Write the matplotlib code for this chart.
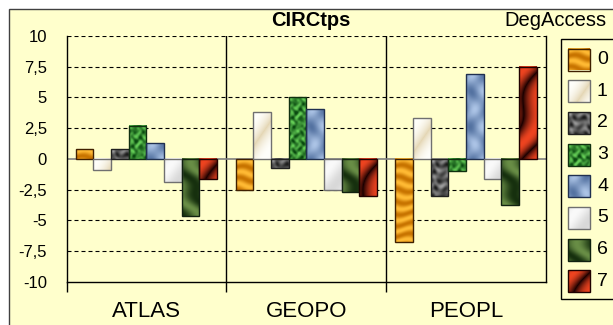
import numpy as np
import matplotlib.pyplot as plt
from matplotlib.patches import Rectangle

plt.rcParams['font.family'] = ['Liberation Sans', 'DejaVu Sans']

# values per DegAccess level, one entry per category
categories = ['ATLAS', 'GEOPO', 'PEOPL']
levels = ['0', '1', '2', '3', '4', '5', '6', '7']
deg0 = [0.8, -2.5, -6.8]
deg1 = [-0.9, 3.8, 3.3]
deg2 = [0.8, -0.75, -3.0]
deg3 = [2.7, 5.0, -1.0]
deg4 = [1.3, 4.05, 6.9]
deg5 = [-1.9, -2.5, -1.65]
deg6 = [-4.65, -2.7, -3.75]
deg7 = [-1.65, -3.05, 7.5]
series = [deg0, deg1, deg2, deg3, deg4, deg5, deg6, deg7]
yticks = [-10, -7.5, -5, -2.5, 0, 2.5, 5, 7.5, 10]

bg_col = '#FFFFCC'
# dark / light tone of each fill texture
tones = [('#C87400', '#FFBA34'),
         ('#E4D6B4', '#FFFFFB'),
         ('#1C1C1C', '#9C9C9C'),
         ('#0A4A10', '#64CC56'),
         ('#3E5E90', '#ACC4E6'),
         ('#D0D0D0', '#FAFAFA'),
         ('#16300E', '#72984C'),
         ('#1A0000', '#EE4420')]
edges = ['#402000', '#707070', '#202020', '#103010',
         '#203050', '#707070', '#102010', '#200000']


def hex_rgb(h):
    return np.array([int(h[i:i + 2], 16) for i in (1, 3, 5)]) / 255.0


def texture(k, nr, nc):
    v, u = np.mgrid[0:nr, 0:nc].astype(float)
    if k == 0:
        # soft wood grain
        t = 0.5 + 0.5 * np.sin(0.55 * v + 1.2 * np.sin(0.18 * u + 0.07 * v))
    elif k == 1:
        t = np.clip(0.5 + 0.5 * np.sin(0.16 * u + 0.11 * v + 1.0), 0, 1) ** 0.4
    elif k == 2:
        t = 0.5 + 0.17 * (np.sin(0.6 * u + 0.3 * v) + np.sin(0.45 * v - 0.35 * u + 1.5 * np.cos(0.4 * u))
                          + np.sin(0.8 * v + 0.9 * np.sin(0.5 * u)))
    elif k == 3:
        t = 0.5 + 0.2 * (np.sin(0.9 * u + 1.5 * np.cos(0.6 * v)) + np.sin(0.8 * v + 1.3 * np.sin(0.7 * u))
                         + np.sin(0.5 * (u + v)))
    elif k == 4:
        t = 0.6 + 0.4 * np.sin(0.25 * u + 0.6 * np.sin(0.15 * v)) * np.cos(0.18 * v)
    elif k == 5:
        t = 0.6 + 0.4 * np.sin(0.15 * u + 0.12 * v)
    elif k == 6:
        t = 0.45 + 0.45 * np.sin(0.18 * (u - 0.7 * v) + 0.8 * np.sin(0.2 * v))
    else:
        t = (0.5 + 0.5 * np.sin(0.2 * (u + 0.5 * v) + 1.5 * np.sin(0.08 * v))) ** 0.45
    t = np.clip(t, 0, 1)[..., None]
    lo, hi = hex_rgb(tones[k][0]), hex_rgb(tones[k][1])
    return lo * (1 - t) + hi * t


fig = plt.figure(figsize=(6.13, 3.25), dpi=100)
fig.patch.set_facecolor('white')

# full-figure layer in pixel units for chart area, titles and legend
bg = fig.add_axes([0, 0, 1, 1])
bg.axis('off')
bg.add_patch(Rectangle((9, 9), 620, 330, facecolor=bg_col, edgecolor='#404040', lw=1))
bg.text(311, 21, 'CIRCtps', ha='center', va='center', fontsize=14.5, weight='bold')
bg.text(504, 21, 'DegAccess', ha='left', va='center', fontsize=14.5)

bg.add_patch(Rectangle((561, 39), 80, 260, facecolor=bg_col, edgecolor='black', lw=1))
for k, lab in enumerate(levels):
    y0 = 48.5 + k * 31.7
    bg.imshow(texture(k, 22, 22), extent=(568, 590, y0 + 22, y0),
              aspect='auto', interpolation='bilinear', zorder=3)
    bg.add_patch(Rectangle((568, y0), 22, 22, fill=False, edgecolor=edges[k], lw=1, zorder=4))
    bg.text(597, y0 + 11, lab, ha='left', va='center', fontsize=14)
bg.set_xlim(0, 613)
bg.set_ylim(325, 0)

ax = fig.add_axes([66.5 / 613, 43.3 / 325, 479.5 / 613, 245.7 / 325])
ax.patch.set_alpha(0)

x = np.arange(len(categories))
n = len(series)
group = 0.885
bw = group / n
for k, vals in enumerate(series):
    pos = x - group / 2 + k * bw
    bars = ax.bar(pos, vals, bw, align='edge', color=tones[k][1], edgecolor='none', zorder=3)
    for b, val in zip(bars, vals):
        nr = max(2, int(round(abs(val) * 12.3)))
        ax.imshow(texture(k, nr, 18),
                  extent=(b.get_x(), b.get_x() + bw, min(0, val), max(0, val)),
                  aspect='auto', interpolation='bilinear', zorder=3.5, clip_path=b)
    ax.bar(pos, vals, bw, align='edge', fill=False, edgecolor=edges[k], lw=1, zorder=4)

for y in yticks:
    if y not in (0, -10):
        ax.axhline(y, color='black', lw=0.8, ls=(0, (3.6, 2.7)), zorder=1)
ax.axhline(0, color='#808080', lw=1.2, zorder=2)
for sep in (0.5, 1.5):
    ax.axvline(sep, color='black', lw=1, zorder=1)

ax.set_xlim(-0.5, 2.5)
ax.set_ylim(-10, 10)
ax.set_aspect('auto')

ax.set_yticks(yticks)
ax.set_yticklabels([('%g' % y).replace('.', ',') for y in yticks])
ax.tick_params(axis='y', length=0, pad=14, labelsize=12)

ax.set_xticks([-0.5, 0.5, 1.5])
ax.set_xticklabels([])
ax.tick_params(axis='x', which='major', length=7.5, width=1, direction='out', color='black')
ax.set_xticks(x, minor=True)
ax.set_xticklabels(categories, minor=True)
ax.tick_params(axis='x', which='minor', length=0, pad=14, labelsize=16)

ax.spines['top'].set_visible(False)
for s in ('left', 'right', 'bottom'):
    ax.spines[s].set_color('black')
    ax.spines[s].set_linewidth(1)

fig.savefig('out.png', dpi=100)
